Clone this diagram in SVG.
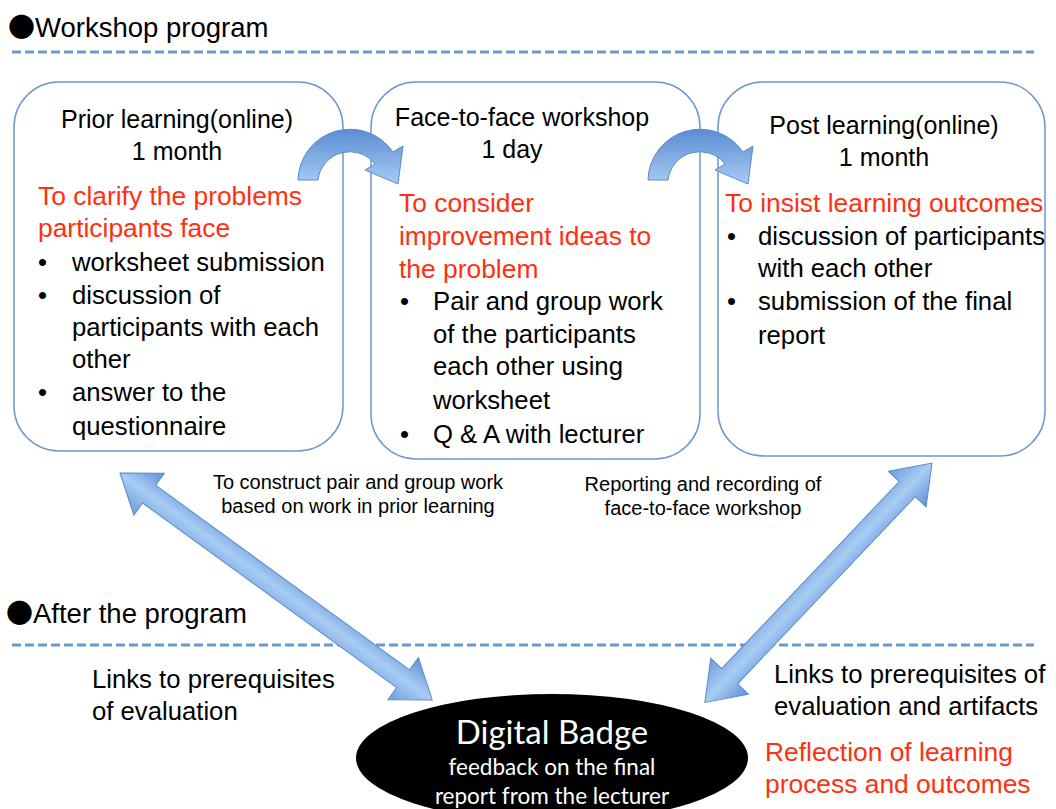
<svg xmlns="http://www.w3.org/2000/svg" width="1056" height="809" viewBox="0 0 1056 809">
<style>
.t{font-family:"Liberation Sans",Arial,sans-serif;fill:#000;font-size:25.7px}
.tt{font-size:25px}
.r{font-family:"Liberation Sans",Arial,sans-serif;fill:#FF2F0F;font-size:26.4px}
.s{font-family:"Liberation Sans",Arial,sans-serif;fill:#000;font-size:20px}
.h{font-family:"Liberation Sans","DejaVu Sans",sans-serif;fill:#000;font-size:27.5px}
.dot{font-family:"Noto Sans CJK JP","DejaVu Sans",sans-serif;font-size:27px}
.box{fill:#fff;stroke:#6F97CB;stroke-width:1.5}
.dash{stroke:#6A9AD0;stroke-width:3;stroke-dasharray:9 4;fill:none}
.w{font-family:Lato,"Liberation Sans",sans-serif;fill:#fff;text-anchor:middle}
.arr{fill:url(#ga);stroke:#5A8BCB;stroke-width:1}
.carr{fill:url(#gc);stroke:#5A8BCB;stroke-width:1}
</style>
<defs>
<linearGradient id="ga" x1="0" y1="0" x2="0" y2="1">
<stop offset="0" stop-color="#5D90D6"/>
<stop offset="0.5" stop-color="#A9CCF3"/>
<stop offset="1" stop-color="#6C9DDD"/>
</linearGradient>
<linearGradient id="gc" x1="0" y1="0" x2="0" y2="1">
<stop offset="0" stop-color="#5B8DD3"/>
<stop offset="1" stop-color="#A8CBF2"/>
</linearGradient>
</defs>
<rect width="1056" height="809" fill="#fff"/>

<g id="headers">
<text class="h" x="8" y="37"><tspan class="dot">●</tspan>Workshop program</text>
<line class="dash" x1="12" y1="52" x2="1034" y2="52"/>
<text class="h" x="6" y="623"><tspan class="dot">●</tspan>After the program</text>
<line class="dash" x1="12" y1="645" x2="1034" y2="645"/>
</g>

<g id="box1">
<rect class="box" x="14" y="82" width="329" height="369" rx="45" ry="45"/>
<text class="t tt" x="177" y="128" text-anchor="middle">Prior learning(online)</text>
<text class="t tt" x="177" y="160" text-anchor="middle">1 month</text>
<text class="r" x="38" y="205">To clarify the problems</text>
<text class="r" x="38" y="237">participants face</text>
<text class="t" x="38" y="271">•</text><text class="t" x="72" y="271">worksheet submission</text>
<text class="t" x="38" y="304">•</text><text class="t" x="72" y="304">discussion of</text>
<text class="t" x="72" y="336">participants with each</text>
<text class="t" x="72" y="368">other</text>
<text class="t" x="38" y="401">•</text><text class="t" x="72" y="401">answer to the</text>
<text class="t" x="72" y="435">questionnaire</text>
</g>

<g id="box2">
<rect class="box" x="371" y="82" width="329" height="377" rx="45" ry="45"/>
<text class="t tt" x="522" y="126" text-anchor="middle">Face-to-face workshop</text>
<text class="t tt" x="512" y="158" text-anchor="middle">1 day</text>
<text class="r" x="399" y="212">To consider</text>
<text class="r" x="399" y="245">improvement ideas to</text>
<text class="r" x="399" y="278">the problem</text>
<text class="t" x="400" y="310">•</text><text class="t" x="433" y="310">Pair and group work</text>
<text class="t" x="433" y="343">of the participants</text>
<text class="t" x="433" y="375">each other using</text>
<text class="t" x="433" y="409">worksheet</text>
<text class="t" x="400" y="443">•</text><text class="t" x="433" y="443">Q &amp; A with lecturer</text>
</g>

<g id="box3">
<rect class="box" x="718" y="82" width="327" height="374" rx="45" ry="45"/>
<text class="t tt" x="884" y="134" text-anchor="middle">Post learning(online)</text>
<text class="t tt" x="884" y="166" text-anchor="middle">1 month</text>
<text class="r" x="725" y="212">To insist learning outcomes</text>
<text class="t" x="727" y="245">•</text><text class="t" x="758" y="245">discussion of participants</text>
<text class="t" x="758" y="277">with each other</text>
<text class="t" x="727" y="310">•</text><text class="t" x="758" y="310">submission of the final</text>
<text class="t" x="758" y="344">report</text>
</g>

<g id="badge">
<ellipse cx="552" cy="758" rx="196" ry="64" fill="#000"/>
<text class="w" x="552" y="744" font-size="33">Digital Badge</text>
<text class="w" x="552" y="775" font-size="22.5">feedback on the final</text>
<text class="w" x="552" y="804" font-size="22.5">report from the lecturer</text>
</g>

<g id="labels">
<text class="s" x="358" y="489" text-anchor="middle">To construct pair and group work</text>
<text class="s" x="358" y="513" text-anchor="middle">based on work in prior learning</text>
<text class="s" x="703" y="491" text-anchor="middle">Reporting and recording of</text>
<text class="s" x="703" y="515" text-anchor="middle">face-to-face workshop</text>
<text class="t" x="92" y="688">Links to prerequisites</text>
<text class="t" x="92" y="720">of evaluation</text>
<text class="t" x="774" y="683">Links to prerequisites of</text>
<text class="t" x="774" y="715">evaluation and artifacts</text>
<text class="r" x="765" y="761">Reflection of learning</text>
<text class="r" x="765" y="793">process and outcomes</text>
</g>

<g id="connectors">
<path class="carr" d="M298,180 A52,52 0 0 1 393,152 L403,146 L398,184 L365,170 L375,164 A32,32 0 0 0 318,180 Z"/>
<path class="carr" d="M648,180 A52,52 0 0 1 743,152 L753,146 L748,184 L715,170 L725,164 A32,32 0 0 0 668,180 Z"/>
<g transform="translate(120,473) rotate(36)">
<polygon class="arr" points="0,0 36,-26 36,-11 350,-11 350,-26 386,0 350,26 350,11 36,11 36,26"/>
</g>
<g transform="translate(932,463) rotate(133.5)">
<polygon class="arr" points="0,0 36,-26 36,-11 294,-11 294,-26 330,0 294,26 294,11 36,11 36,26"/>
</g>
</g>
</svg>
